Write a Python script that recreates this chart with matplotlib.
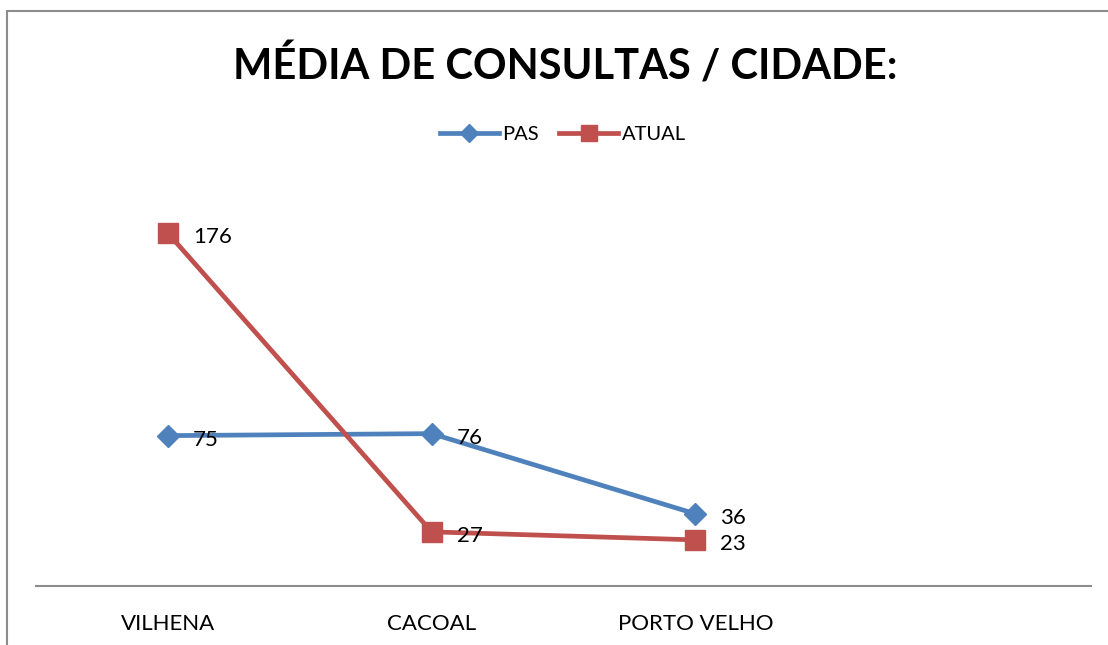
import matplotlib.pyplot as plt
from matplotlib.patches import Rectangle

# dados do gráfico
cidades = ['VILHENA', 'CACOAL', 'PORTO VELHO', '']
pas = [75, 76, 36]
atual = [176, 27, 23]

plt.rcParams['font.family'] = ['Lato', 'DejaVu Sans']

fig = plt.figure(figsize=(11.08, 6.45), dpi=100)
W, H = 1108, 645

# borda da área do gráfico (cortada à direita e embaixo)
fig.patches.append(Rectangle((7 / W, -0.05), 1.2, 1.05 - 11 / H,
                             transform=fig.transFigure, fill=False,
                             edgecolor='#8c8c8c', linewidth=1.5))

ax = fig.add_axes([36 / W, 1 - 586 / H, (1091 - 36) / W, (586 - 185) / H])
x = list(range(len(pas)))

ax.plot(x, pas, color='#4F81BD', lw=3.4, marker='D', ms=11, label='PAS')
ax.plot(x, atual, color='#C0504D', lw=3.4, marker='s', ms=14.5, label='ATUAL')

for xi, v in zip(x, pas):
    ax.annotate(str(v), (xi, v), xytext=(18, -3), textcoords='offset points',
                va='center', ha='left', fontsize=16)
for xi, v in zip(x, atual):
    ax.annotate(str(v), (xi, v), xytext=(18, -3), textcoords='offset points',
                va='center', ha='left', fontsize=16)

ax.set_xlim(-0.5, len(cidades) - 0.5)
ax.set_ylim(0, 200)
ax.set_xticks(range(len(cidades)))
ax.set_xticklabels(cidades, fontsize=16)
ax.tick_params(axis='x', length=0, pad=20)
ax.set_yticks([])
for s in ['left', 'right', 'top']:
    ax.spines[s].set_visible(False)
ax.spines['bottom'].set_color('#8c8c8c')
ax.spines['bottom'].set_linewidth(1.5)

fig.text(565 / W, 1 - 66 / H, 'MÉDIA DE CONSULTAS / CIDADE:', ha='center',
         va='center', fontsize=30, fontweight='bold')

fig.legend(loc='center', bbox_to_anchor=(563 / W, 1 - 134 / H), ncol=2,
           frameon=False, fontsize=14.5, handlelength=2.9, columnspacing=1.0,
           handletextpad=0.2, markerscale=0.8)

fig.savefig('out.png', dpi=100)
